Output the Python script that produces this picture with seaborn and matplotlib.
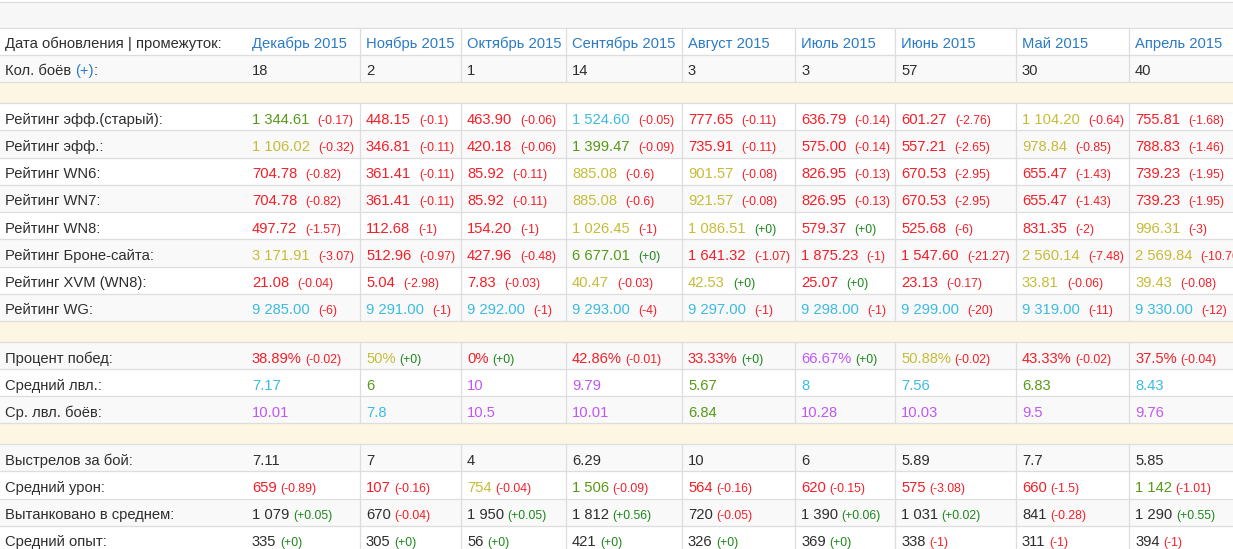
import matplotlib
matplotlib.use("Agg")
import matplotlib.pyplot as plt
import seaborn as sns

# ================================
# Data (read from the table)
# ================================
months = ["Декабрь 2015", "Ноябрь 2015", "Октябрь 2015", "Сентябрь 2015", "Август 2015",
          "Июль 2015", "Июнь 2015", "Май 2015", "Апрель 2015"]
battles = [18, 2, 1, 14, 3, 3, 57, 30, 40]

eff_old = [1344.61, 448.15, 463.90, 1524.60, 777.65, 636.79, 601.27, 1104.20, 755.81]
eff_old_d = [-0.17, -0.1, -0.06, -0.05, -0.11, -0.14, -2.76, -0.64, -1.68]
eff_old_c = ["g", "r", "r", "b", "r", "r", "r", "y", "r"]

eff = [1106.02, 346.81, 420.18, 1399.47, 735.91, 575.00, 557.21, 978.84, 788.83]
eff_d = [-0.32, -0.11, -0.06, -0.09, -0.11, -0.14, -2.65, -0.85, -1.46]
eff_c = ["y", "r", "r", "g", "r", "r", "r", "y", "r"]

wn6 = [704.78, 361.41, 85.92, 885.08, 901.57, 826.95, 670.53, 655.47, 739.23]
wn6_d = [-0.82, -0.11, -0.11, -0.6, -0.08, -0.13, -2.95, -1.43, -1.95]
wn6_c = ["r", "r", "r", "y", "y", "r", "r", "r", "r"]

wn7 = [704.78, 361.41, 85.92, 885.08, 921.57, 826.95, 670.53, 655.47, 739.23]
wn7_d = [-0.82, -0.11, -0.11, -0.6, -0.08, -0.13, -2.95, -1.43, -1.95]
wn7_c = ["r", "r", "r", "y", "y", "r", "r", "r", "r"]

wn8 = [497.72, 112.68, 154.20, 1026.45, 1086.51, 579.37, 525.68, 831.35, 996.31]
wn8_d = [-1.57, -1, -1, -1, 0, 0, -6, -2, -3]
wn8_c = ["r", "r", "r", "y", "y", "r", "r", "r", "y"]

armor = [3171.91, 512.96, 427.96, 6677.01, 1641.32, 1875.23, 1547.60, 2560.14, 2569.84]
armor_d = [-3.07, -0.97, -0.48, 0, -1.07, -1, -21.27, -7.48, -10.76]
armor_c = ["y", "r", "r", "g", "r", "r", "r", "y", "y"]

xvm = [21.08, 5.04, 7.83, 40.47, 42.53, 25.07, 23.13, 33.81, 39.43]
xvm_d = [-0.04, -2.98, -0.03, -0.03, 0, 0, -0.17, -0.06, -0.08]
xvm_c = ["r", "r", "r", "y", "y", "r", "r", "y", "y"]

wg = [9285, 9291, 9292, 9293, 9297, 9298, 9299, 9319, 9330]
wg_d = [-6, -1, -1, -4, -1, -1, -20, -11, -12]
wg_c = ["b"] * 9

winrate = [38.89, 50, 0, 42.86, 33.33, 66.67, 50.88, 43.33, 37.5]
winrate_d = [-0.02, 0, 0, -0.01, 0, 0, -0.02, -0.02, -0.04]
winrate_c = ["r", "y", "r", "r", "r", "p", "y", "r", "r"]

avg_lvl = [7.17, 6, 10, 9.79, 5.67, 8, 7.56, 6.83, 8.43]
avg_lvl_c = ["b", "g", "p", "p", "g", "b", "b", "g", "b"]

battle_lvl = [10.01, 7.8, 10.5, 10.01, 6.84, 10.28, 10.03, 9.5, 9.76]
battle_lvl_c = ["p", "b", "p", "p", "g", "p", "p", "p", "p"]

shots = [7.11, 7, 4, 6.29, 10, 6, 5.89, 7.7, 5.85]

damage = [659, 107, 754, 1506, 564, 620, 575, 660, 1142]
damage_d = [-0.89, -0.16, -0.04, -0.09, -0.16, -0.15, -3.08, -1.5, -1.01]
damage_c = ["r", "r", "y", "g", "r", "r", "r", "r", "g"]

tanked = [1079, 670, 1950, 1812, 720, 1390, 1031, 841, 1290]
tanked_d = [0.05, -0.04, 0.05, 0.56, -0.05, 0.06, 0.02, -0.28, 0.55]

xp = [335, 305, 56, 421, 326, 369, 338, 311, 394]
xp_d = [0, 0, 0, 0, 0, 0, -1, -1, -1]

# ================================
# Style
# ================================
sns.set_theme(style="white")
plt.rcParams["font.family"] = ["Liberation Sans", "DejaVu Sans"]

CLR = {"r": "#f51e28", "y": "#c6bc38", "g": "#569a18", "b": "#3bbbe0",
       "p": "#c057f4", "k": "#2e2e2e"}
LINK = "#2a7ac6"
POS = "#1c861c"
GRID = "#dddddd"
STRIPE = "#f9f9f9"
SEP = "#fcf6e3"

FS = 10.6     # main text
FS_D = 8.8    # deltas


def fmt(v, fixed=False):
    s = f"{v:,.2f}"
    if not fixed:
        s = s.rstrip("0").rstrip(".")
    return s.replace(",", " ")


def fmt_delta(d):
    sign = "+" if d >= 0 else "-"
    return f"({sign}{fmt(abs(d))})"


# rows: label, values, deltas, colour codes, fixed decimals, suffix, gap (pt)
section_ratings = [
    ("Рейтинг эфф.(старый):", eff_old, eff_old_d, eff_old_c, True, "", 6.0),
    ("Рейтинг эфф.:", eff, eff_d, eff_c, True, "", 6.0),
    ("Рейтинг WN6:", wn6, wn6_d, wn6_c, True, "", 6.0),
    ("Рейтинг WN7:", wn7, wn7_d, wn7_c, True, "", 6.0),
    ("Рейтинг WN8:", wn8, wn8_d, wn8_c, True, "", 6.0),
    ("Рейтинг Броне-сайта:", armor, armor_d, armor_c, True, "", 6.0),
    ("Рейтинг XVM (WN8):", xvm, xvm_d, xvm_c, True, "", 6.0),
    ("Рейтинг WG:", wg, wg_d, wg_c, True, "", 6.0),
]
section_levels = [
    ("Процент побед:", winrate, winrate_d, winrate_c, False, "%", 2.6),
    ("Средний лвл.:", avg_lvl, None, avg_lvl_c, False, "", 2.6),
    ("Ср. лвл. боёв:", battle_lvl, None, battle_lvl_c, False, "", 2.6),
]
section_battle = [
    ("Выстрелов за бой:", shots, None, ["k"] * 9, False, "", 2.6),
    ("Средний урон:", damage, damage_d, damage_c, False, "", 2.6),
    ("Вытанковано в среднем:", tanked, tanked_d, ["k"] * 9, False, "", 2.6),
    ("Средний опыт:", xp, xp_d, ["k"] * 9, False, "", 2.6),
]

# ================================
# Layout (pixels)
# ================================
W, H = 1233, 549
col_left = [246, 360, 461, 566, 682, 795, 895, 1016, 1129]
PAD = 6

layout = [("band", 26.5, "#f7f7f7", None), ("header", 27, "white", None),
          ("battles", 27, STRIPE, None), ("sep", 21, SEP, None)]
for i, r in enumerate(section_ratings):
    layout.append(("data", 27.25, "white" if i % 2 == 0 else STRIPE, r))
layout.append(("sep", 21.3, SEP, None))
for i, r in enumerate(section_levels):
    layout.append(("data", 27, STRIPE if i % 2 == 0 else "white", r))
layout.append(("sep", 21, SEP, None))
for i, r in enumerate(section_battle):
    layout.append(("data", 27.1, STRIPE if i % 2 == 0 else "white", r))

fig = plt.figure(figsize=(W / 100, H / 100), dpi=100)
ax = fig.add_axes([0, 0, 1, 1])
ax.set_xlim(0, W)
ax.set_ylim(H, 0)
ax.axis("off")


def put(x, y, s, color, size=FS):
    return ax.text(x, y, s, color=color, fontsize=size, va="baseline", ha="left")


def put_after(t, s, color, gap, size=FS_D):
    return ax.annotate(s, xy=(1, 0), xycoords=t, xytext=(gap, 0),
                       textcoords="offset points", color=color, fontsize=size,
                       va="bottom", ha="left")


y = 1.5
ax.axhline(y, color=GRID, lw=0.9)
for kind, h, bg, row in layout:
    top, bot = y, y + h
    ax.axhspan(top, bot, color=bg, lw=0, zorder=0)
    ax.axhline(bot, color=GRID, lw=0.9, zorder=1)
    if kind in ("header", "battles", "data"):
        ax.vlines(col_left[1:], top, bot, color=GRID, lw=0.9, zorder=1)
    base = bot - 6.6
    if kind == "header":
        put(5, base, "Дата обновления | промежуток:", CLR["k"])
        for x, m in zip(col_left, months):
            put(x + PAD, base, m, LINK)
    elif kind == "battles":
        t = put(5, base, "Кол. боёв ", CLR["k"])
        t = ax.annotate("(+)", xy=(1, 0), xycoords=t, color=LINK, fontsize=FS,
                        va="bottom", ha="left")
        ax.annotate(":", xy=(1, 0), xycoords=t, color=CLR["k"], fontsize=FS,
                    va="bottom", ha="left")
        for x, b in zip(col_left, battles):
            put(x + PAD, base, str(b), CLR["k"])
    elif kind == "data":
        label, vals, deltas, codes, fixed, suffix, gap = row
        put(5, base, label, CLR["k"])
        for j, x in enumerate(col_left):
            t = put(x + PAD, base, fmt(vals[j], fixed) + suffix, CLR[codes[j]])
            if deltas is not None:
                d = deltas[j]
                put_after(t, fmt_delta(d), CLR["r"] if d < 0 else POS, gap)
    y = bot

fig.savefig("out.png", dpi=100)
